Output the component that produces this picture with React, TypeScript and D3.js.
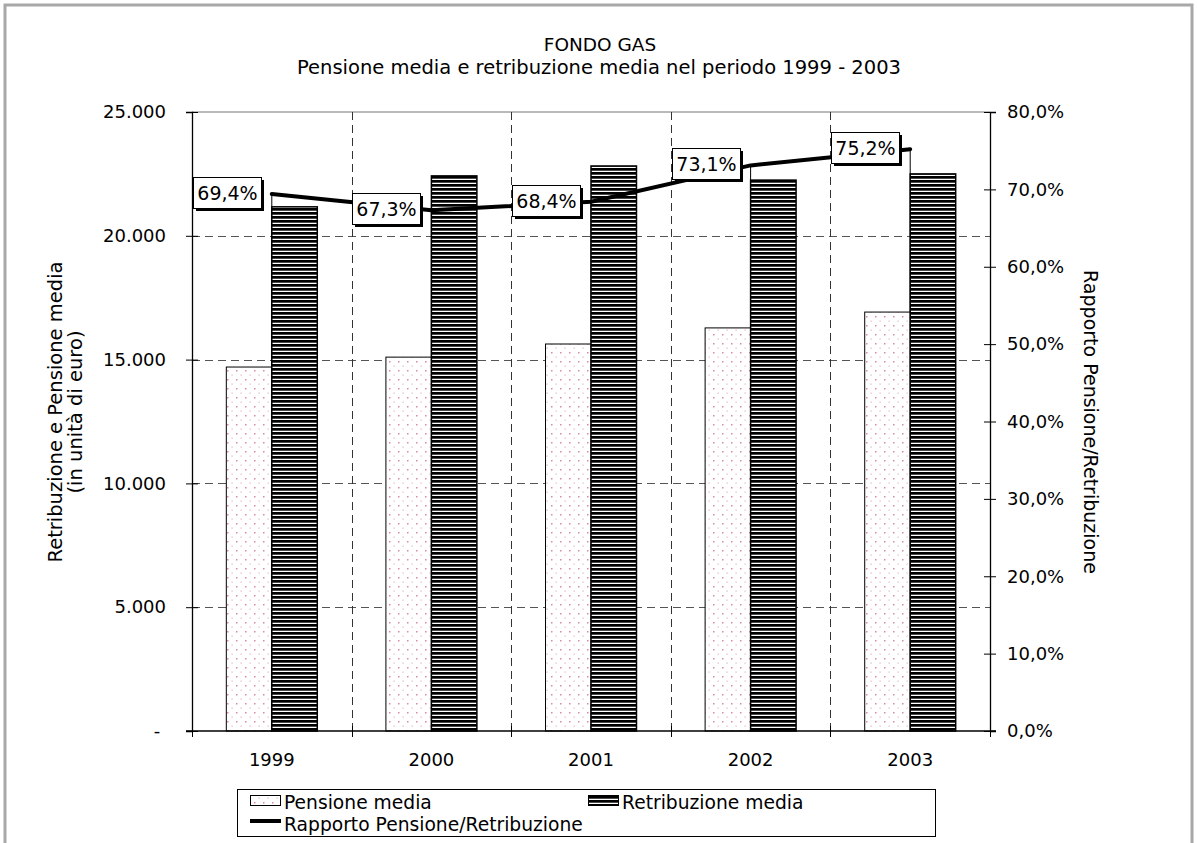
import { useEffect, useRef } from "react";
import * as d3 from "d3";

const years = ["1999", "2000", "2001", "2002", "2003"];
const pensione = [14700, 15100, 15630, 16280, 16920];
const retribuzione = [21170, 22420, 22820, 22250, 22500];
const rapporto = [0.694, 0.673, 0.684, 0.731, 0.752];

const seriesNames = ["Pensione media", "Retribuzione media"];
const lineName = "Rapporto Pensione/Retribuzione";

const W = 1197;
const H = 843;
const FONT = "'DejaVu Sans', Verdana, sans-serif";

const it = d3.formatLocale({
  decimal: ",",
  thousands: ".",
  grouping: [3],
  currency: ["€", ""],
});
const fmtNum = it.format(",.0f");
const fmtPct = it.format(".1%");

export default function App() {
  const ref = useRef<SVGSVGElement>(null);

  useEffect(() => {
    if (!ref.current) return;
    const svg = d3.select(ref.current);
    svg.selectAll("*").remove();

    const left = 192,
      right = 990,
      top = 112,
      bottom = 731;

    // patterns
    const defs = svg.append("defs");
    const dots = defs
      .append("pattern")
      .attr("id", "dots")
      .attr("patternUnits", "userSpaceOnUse")
      .attr("width", 9)
      .attr("height", 9);
    dots.append("rect").attr("width", 9).attr("height", 9).attr("fill", "#fff");
    dots
      .append("rect")
      .attr("x", 2)
      .attr("y", 1)
      .attr("width", 1.5)
      .attr("height", 1.5)
      .attr("fill", "#d98aa0");
    dots
      .append("rect")
      .attr("x", 6.5)
      .attr("y", 5.5)
      .attr("width", 1.2)
      .attr("height", 1.2)
      .attr("fill", "#e2b3c2");

    const stripes = defs
      .append("pattern")
      .attr("id", "stripes")
      .attr("patternUnits", "userSpaceOnUse")
      .attr("width", 8)
      .attr("height", 4);
    stripes.append("rect").attr("width", 8).attr("height", 4).attr("fill", "#fff");
    stripes.append("rect").attr("width", 8).attr("height", 2.7).attr("fill", "#000");

    // frame
    svg
      .append("rect")
      .attr("x", 5)
      .attr("y", 5)
      .attr("width", 1187)
      .attr("height", 900)
      .attr("fill", "#fff")
      .attr("stroke", "#a8a8a8")
      .attr("stroke-width", 3);

    const x0 = d3
      .scaleBand<string>()
      .domain(years)
      .range([left, right])
      .paddingInner(0.43)
      .paddingOuter(0.215);
    const x1 = d3
      .scaleBand<string>()
      .domain(seriesNames)
      .range([0, x0.bandwidth()]);
    const y = d3.scaleLinear().domain([0, 25000]).range([bottom, top]);
    const y2 = d3.scaleLinear().domain([0, 0.8]).range([bottom, top]);

    const step = x0.step();
    const bounds = years
      .map((d) => (x0(d) as number) - (step * x0.paddingInner()) / 2)
      .concat([right]);

    // titles
    svg
      .append("text")
      .attr("x", 600)
      .attr("y", 51)
      .attr("text-anchor", "middle")
      .style("font-family", FONT)
      .style("font-size", "18.5px")
      .text("FONDO GAS");
    svg
      .append("text")
      .attr("x", 599)
      .attr("y", 74)
      .attr("text-anchor", "middle")
      .style("font-family", FONT)
      .style("font-size", "19.5px")
      .text("Pensione media e retribuzione media nel periodo 1999 - 2003");

    // gridlines
    svg
      .append("line")
      .attr("x1", left)
      .attr("x2", right)
      .attr("y1", top)
      .attr("y2", top)
      .attr("stroke", "#777")
      .attr("stroke-width", 1.2);
    svg
      .append("g")
      .selectAll("line")
      .data(y.ticks(5).filter((t) => t > 0 && t < 25000))
      .enter()
      .append("line")
      .attr("x1", left)
      .attr("x2", right)
      .attr("y1", (d) => Math.round(y(d)) + 0.5)
      .attr("y2", (d) => Math.round(y(d)) + 0.5)
      .attr("stroke", "#555")
      .attr("stroke-dasharray", "8,5");
    svg
      .append("g")
      .selectAll("line")
      .data(bounds.slice(1, -1))
      .enter()
      .append("line")
      .attr("x1", (d) => Math.round(d) + 0.5)
      .attr("x2", (d) => Math.round(d) + 0.5)
      .attr("y1", top)
      .attr("y2", bottom)
      .attr("stroke", "#333")
      .attr("stroke-dasharray", "8,5");

    const cx = (i: number) => (x0(years[i]) as number) + x0.bandwidth() / 2;

    // drop lines
    svg
      .append("g")
      .selectAll("line")
      .data(rapporto)
      .enter()
      .append("line")
      .attr("x1", (_d, i) => cx(i))
      .attr("x2", (_d, i) => cx(i))
      .attr("y1", (d) => y2(d))
      .attr("y2", bottom)
      .attr("stroke", "#000")
      .attr("stroke-width", 1);

    // bars
    const bars = [pensione, retribuzione];
    bars.forEach((vals, si) => {
      svg
        .append("g")
        .selectAll("rect")
        .data(vals)
        .enter()
        .append("rect")
        .attr("x", (_d, i) => (x0(years[i]) as number) + (x1(seriesNames[si]) as number))
        .attr("y", (d) => y(d))
        .attr("width", x1.bandwidth())
        .attr("height", (d) => bottom - y(d))
        .attr("fill", si === 0 ? "url(#dots)" : "url(#stripes)")
        .attr("stroke", "#000")
        .attr("stroke-width", si === 0 ? 1 : 1.5);
    });

    // axes
    const yAxis = svg
      .append("g")
      .attr("transform", `translate(${left},0)`)
      .call(
        d3
          .axisLeft(y)
          .ticks(5)
          .tickSize(6)
          .tickPadding(20)
          .tickFormat((d) => ((d as number) === 0 ? "- " : fmtNum(d as number)))
      );
    yAxis
      .selectAll("text")
      .style("font-family", FONT)
      .style("font-size", "18px")
      .attr("fill", "#000")
      .style("white-space", "pre");
    svg
      .append("g")
      .attr("transform", `translate(${left},0)`)
      .call(d3.axisRight(y).ticks(5).tickSize(6).tickFormat(() => ""))
      .select(".domain")
      .remove();

    const y2Axis = svg
      .append("g")
      .attr("transform", `translate(${right},0)`)
      .call(
        d3
          .axisRight(y2)
          .ticks(8)
          .tickSize(6)
          .tickPadding(11)
          .tickFormat((d) => fmtPct(d as number))
      );
    y2Axis.selectAll("text").style("font-family", FONT).style("font-size", "18px").attr("fill", "#000");
    svg
      .append("g")
      .attr("transform", `translate(${right},0)`)
      .call(d3.axisLeft(y2).ticks(8).tickSize(6).tickFormat(() => ""))
      .select(".domain")
      .remove();
    svg.selectAll(".domain").attr("stroke", "#000").attr("stroke-width", 1.3);

    // x axis
    svg
      .append("line")
      .attr("x1", left - 6)
      .attr("x2", right + 6)
      .attr("y1", bottom)
      .attr("y2", bottom)
      .attr("stroke", "#000")
      .attr("stroke-width", 1.3);
    svg
      .append("g")
      .selectAll("line")
      .data(bounds)
      .enter()
      .append("line")
      .attr("x1", (d) => Math.round(d) + 0.5)
      .attr("x2", (d) => Math.round(d) + 0.5)
      .attr("y1", bottom - 5)
      .attr("y2", bottom + 6)
      .attr("stroke", "#000");
    const xAxis = svg
      .append("g")
      .attr("transform", `translate(0,${bottom})`)
      .call(d3.axisBottom(x0).tickSize(0).tickPadding(22));
    xAxis.select(".domain").remove();
    xAxis.selectAll("text").style("font-family", FONT).style("font-size", "18px").attr("fill", "#000");

    // axis titles
    const lt = svg
      .append("text")
      .attr("transform", `translate(55,412) rotate(-90)`)
      .attr("text-anchor", "middle")
      .style("font-family", FONT)
      .style("font-size", "19.5px");
    lt.append("tspan").attr("x", 0).attr("dy", "0.35em").text("Retribuzione e Pensione media");
    lt.append("tspan").attr("x", 0).attr("dy", "1.05em").text("(in unità di euro)");
    svg
      .append("text")
      .attr("transform", `translate(1091,422) rotate(90)`)
      .attr("text-anchor", "middle")
      .attr("dy", "0.35em")
      .style("font-family", FONT)
      .style("font-size", "19px")
      .text("Rapporto Pensione/Retribuzione");

    // ratio line
    const line = d3
      .line<number>()
      .x((_d, i) => cx(i))
      .y((d) => y2(d));
    svg
      .append("path")
      .datum(rapporto)
      .attr("d", line)
      .attr("fill", "none")
      .attr("stroke", "#000")
      .attr("stroke-width", 4)
      .attr("stroke-linecap", "round")
      .attr("stroke-linejoin", "round");

    // data labels
    const lw = 68,
      lh = 31;
    const lab = svg
      .append("g")
      .selectAll("g")
      .data(rapporto)
      .enter()
      .append("g")
      .attr(
        "transform",
        (d, i) => `translate(${Math.round(cx(i) - 11 - lw)},${Math.round(y2(d) - 1.5 - lh / 2)})`
      );
    lab
      .append("rect")
      .attr("x", 3)
      .attr("y", 3)
      .attr("width", lw)
      .attr("height", lh)
      .attr("fill", "#000");
    lab
      .append("rect")
      .attr("x", 0.5)
      .attr("y", 0.5)
      .attr("width", lw)
      .attr("height", lh)
      .attr("fill", "#fff")
      .attr("stroke", "#000")
      .attr("stroke-width", 1);
    lab
      .append("text")
      .attr("x", lw / 2 + 0.5)
      .attr("y", lh / 2 + 7)
      .attr("text-anchor", "middle")
      .style("font-family", FONT)
      .style("font-size", "19px")
      .text((d) => fmtPct(d));

    // legend
    const lg = svg.append("g");
    lg.append("rect")
      .attr("x", 237.5)
      .attr("y", 789.5)
      .attr("width", 698)
      .attr("height", 47)
      .attr("fill", "#fff")
      .attr("stroke", "#000");
    const items = [
      { name: seriesNames[0], fill: "url(#dots)", x: 250, y: 795, kind: "rect" },
      { name: seriesNames[1], fill: "url(#stripes)", x: 588, y: 795, kind: "rect" },
      { name: lineName, fill: "#000", x: 250, y: 817, kind: "line" },
    ];
    items.forEach((it2) => {
      if (it2.kind === "rect") {
        lg.append("rect")
          .attr("x", it2.x + 0.5)
          .attr("y", it2.y + 0.5)
          .attr("width", 30)
          .attr("height", 10)
          .attr("fill", it2.fill)
          .attr("stroke", "#000");
      } else {
        lg.append("line")
          .attr("x1", it2.x)
          .attr("x2", it2.x + 31)
          .attr("y1", it2.y + 4)
          .attr("y2", it2.y + 4)
          .attr("stroke", "#000")
          .attr("stroke-width", 4);
      }
      lg.append("text")
        .attr("x", it2.x + 34)
        .attr("y", it2.y + 14)
        .style("font-family", FONT)
        .style("font-size", "18.7px")
        .text(it2.name);
    });
  }, []);

  return (
    <svg
      ref={ref}
      width={W}
      height={H}
      style={{ position: "absolute", left: 0, top: 0, background: "#fff" }}
    />
  );
}
